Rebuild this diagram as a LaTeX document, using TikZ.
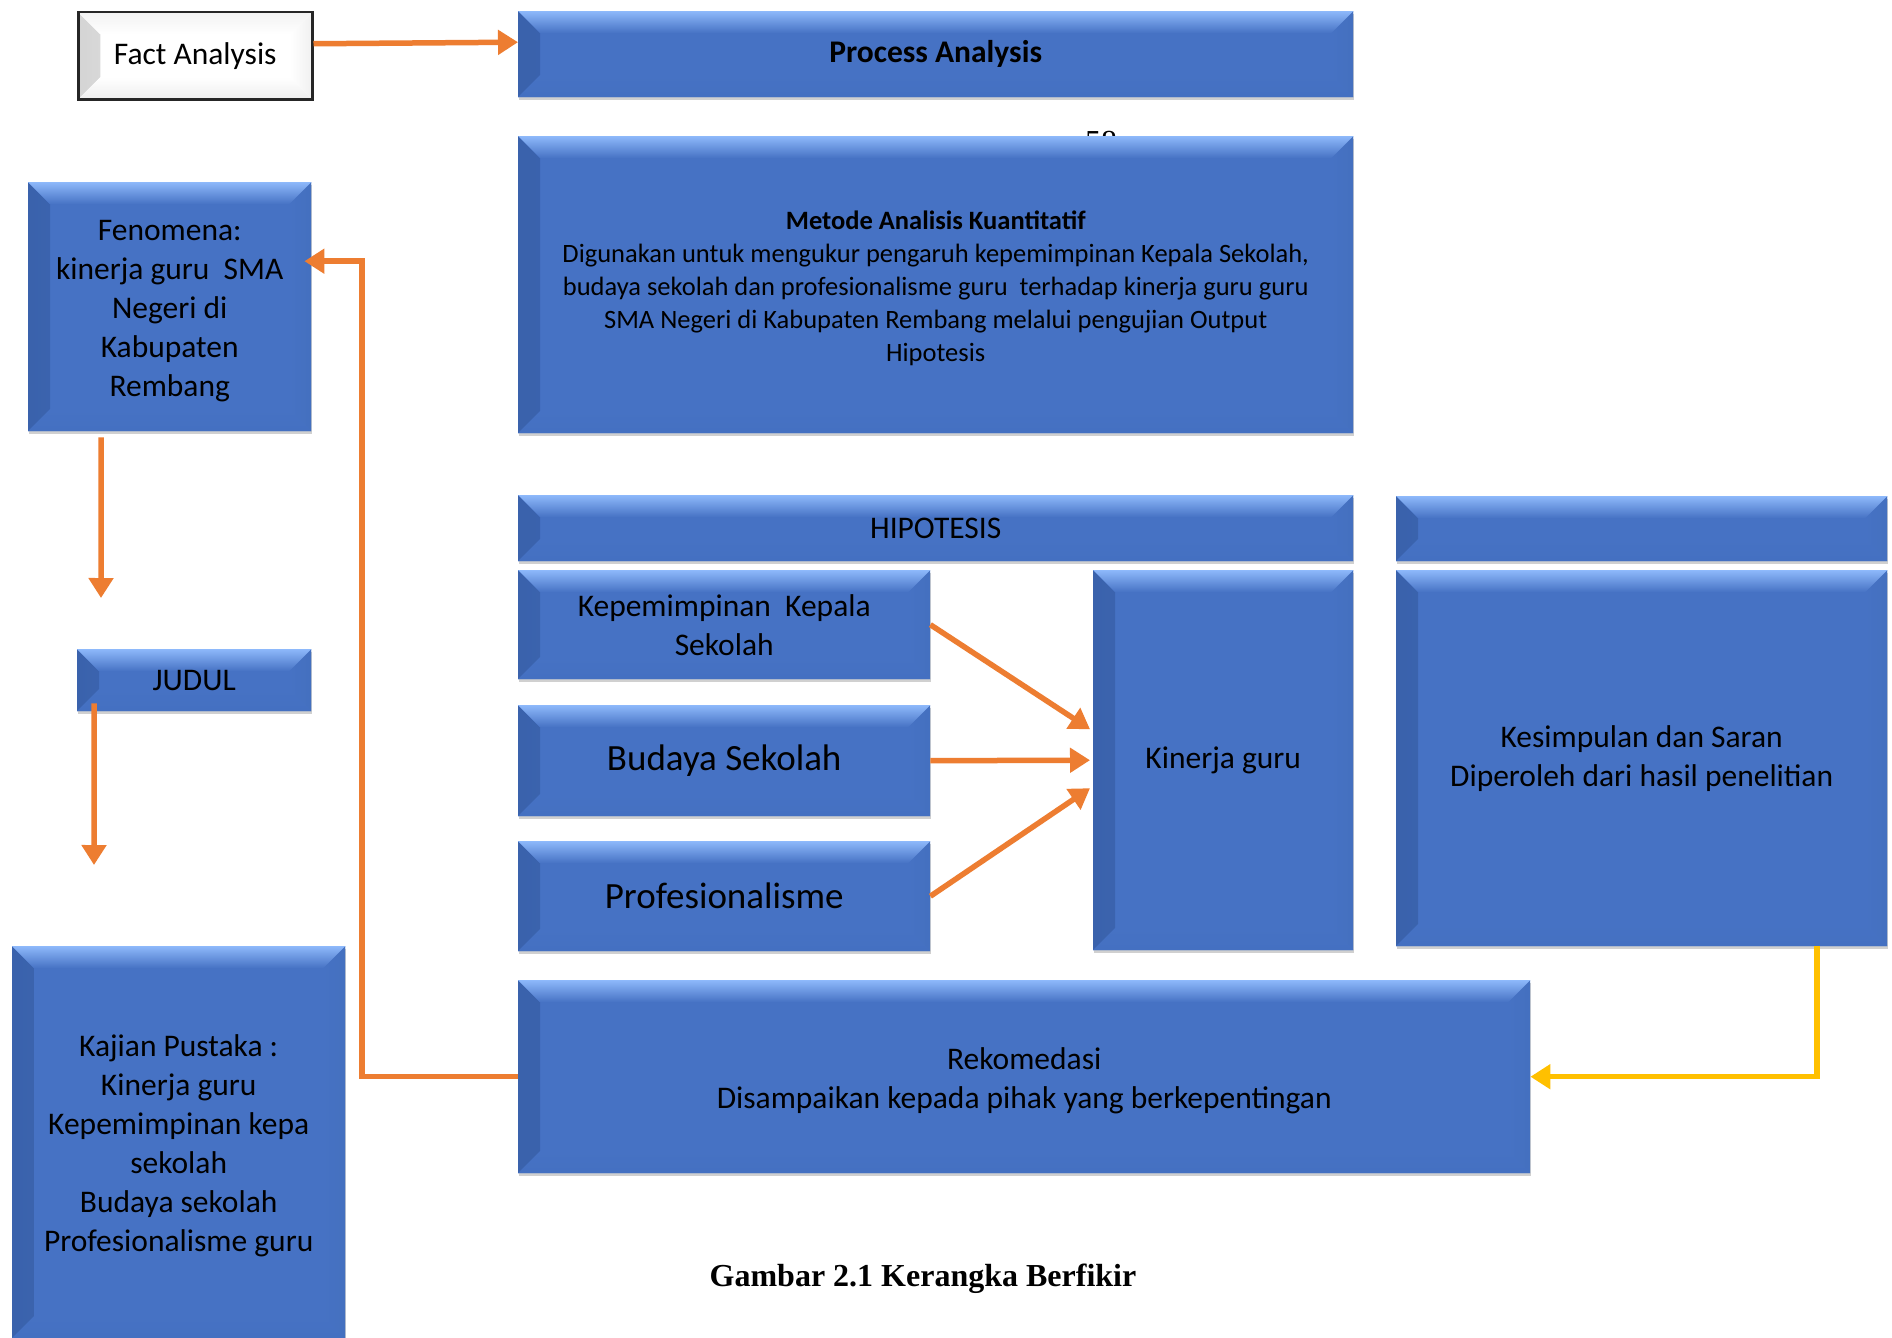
\documentclass[tikz,border=0pt]{standalone}
\usepackage{fontspec}
\setmainfont{Carlito}
\newfontfamily\timesf{Liberation Serif}
\usetikzlibrary{arrows.meta,shadows,calc}
\definecolor{cBase}{HTML}{4672C4}
\definecolor{cTop}{HTML}{8DB8FA}
\definecolor{cLeft}{HTML}{3A62AC}
\definecolor{cRight}{HTML}{4470BF}
\definecolor{cBot}{HTML}{4470C1}
\definecolor{wBase}{HTML}{FFFFFF}
\definecolor{wTop}{HTML}{F2F2F2}
\definecolor{wLeft}{HTML}{D4D4D4}
\definecolor{wRight}{HTML}{F0F0F0}
\definecolor{wBot}{HTML}{EEEEEE}
\definecolor{orangeA}{HTML}{ED7D31}
\definecolor{yellowA}{HTML}{FFC000}
\newcommand{\bv}{22pt}
\newcommand{\mainsz}{\fontsize{31.5}{39}\selectfont}
\newcommand{\dnrule}[1]{\rule{0pt}{#1}}
\tikzset{
  bev/.style n args={5}{fill=#1, path picture={
    \fill[left color=#3, right color=#1]
      (path picture bounding box.north west)
      -- ([xshift=\bv,yshift=-\bv]path picture bounding box.north west)
      -- ([xshift=\bv,yshift=\bv]path picture bounding box.south west)
      -- (path picture bounding box.south west) -- cycle;
    \fill[left color=#1, right color=#4]
      (path picture bounding box.north east)
      -- ([xshift=-\bv,yshift=-\bv]path picture bounding box.north east)
      -- ([xshift=-\bv,yshift=\bv]path picture bounding box.south east)
      -- (path picture bounding box.south east) -- cycle;
    \fill[top color=#1, bottom color=#5]
      (path picture bounding box.south west)
      -- ([xshift=\bv,yshift=\bv]path picture bounding box.south west)
      -- ([xshift=-\bv,yshift=\bv]path picture bounding box.south east)
      -- (path picture bounding box.south east) -- cycle;
    \fill[top color=#2, bottom color=#1]
      (path picture bounding box.north west)
      -- (path picture bounding box.north east)
      -- ([xshift=-\bv,yshift=-\bv]path picture bounding box.north east)
      -- ([xshift=\bv,yshift=-\bv]path picture bounding box.north west) -- cycle;
  }},
  boxbase/.style={rectangle, inner sep=0pt, anchor=north west, align=center,
    text=black, font=\mainsz},
  bluebox/.style={boxbase, bev={cBase}{cTop}{cLeft}{cRight}{cBot},
    drop shadow={shadow xshift=1pt, shadow yshift=-3pt, opacity=0.3, fill=black!60}},
  whitebox/.style={boxbase, bev={wBase}{wTop}{wLeft}{wRight}{wBot},
    draw=black!85, line width=2.5pt},
  conn/.style={draw=orangeA, line width=5.5pt, -{Triangle[length=20pt,width=24pt]}},
  yconn/.style={draw=yellowA, line width=5.5pt, -{Triangle[length=20pt,width=24pt]}},
}
\begin{document}
\begin{tikzpicture}[x=1pt,y=-1pt]
\clip (0,0) rectangle (1892,1338);
\fill[white] (0,0) rectangle (1892,1338);

% page number peeking behind the box
\node[anchor=north, inner sep=0pt, font=\timesf\fontsize{32}{38}\selectfont] (pnum) at (1101,131) {58};

\node[whitebox, minimum width=234pt, minimum height=87pt] (fact) at (77,11) {Fact Analysis};
\node[bluebox, minimum width=835pt, minimum height=86pt] (proc) at (518,11) {\textbf{Process Analysis}};
\node[bluebox, minimum width=835pt, minimum height=297pt, font=\fontsize{26.5}{33}\selectfont] (met) at (518,136)
  {\dnrule{25pt}\textbf{Metode Analisis Kuantitatif}\\
   Digunakan untuk mengukur pengaruh kepemimpinan Kepala Sekolah,\\
   budaya sekolah dan profesionalisme guru\ \ terhadap kinerja guru guru\\
   SMA Negeri di Kabupaten Rembang melalui pengujian Output\\
   Hipotesis};
\node[bluebox, minimum width=283pt, minimum height=249pt] (fen) at (28,182)
  {\dnrule{30pt}Fenomena:\\ kinerja guru\ \ SMA\\ Negeri di\\ Kabupaten\\ Rembang};
\node[bluebox, minimum width=234pt, minimum height=62pt] (jud) at (77,649) {JUDUL};
\node[bluebox, minimum width=333pt, minimum height=392pt] (kaj) at (12,946)
  {\dnrule{29pt}Kajian Pustaka :\\ Kinerja guru\\ Kepemimpinan kepa\\ sekolah\\ Budaya sekolah\\ Profesionalisme guru};
\node[bluebox, minimum width=835pt, minimum height=66pt] (hip) at (518,495) {HIPOTESIS};
\node[bluebox, minimum width=491pt, minimum height=65pt] (blank) at (1396,496) {};
\node[bluebox, minimum width=412pt, minimum height=109pt] (kep) at (518,570) {Kepemimpinan\ \ Kepala\\ Sekolah};
\node[bluebox, minimum width=412pt, minimum height=111pt, font=\fontsize{37}{44}\selectfont] (bud) at (518,705) {Budaya Sekolah};
\node[bluebox, minimum width=412pt, minimum height=110pt, font=\fontsize{37}{44}\selectfont] (prof) at (518,841) {Profesionalisme};
\node[bluebox, minimum width=260pt, minimum height=380pt] (kin) at (1093,570) {Kinerja guru};
\node[bluebox, minimum width=491pt, minimum height=376pt] (kes) at (1396,570)
  {Kesimpulan dan Saran\\ Diperoleh dari hasil penelitian};
\node[bluebox, minimum width=1012pt, minimum height=193pt] (rek) at (518,980)
  {\dnrule{29pt}Rekomedasi\\ Disampaikan kepada pihak yang berkepentingan};

\node[font=\timesf\bfseries\fontsize{32}{38}\selectfont] (cap) at (923,1279) {Gambar 2.1 Kerangka Berfikir};

% connectors
\coordinate (fenend) at (101,598);
\coordinate (judend) at (94,865);
\coordinate (bendx) at (362,0);
\coordinate (fentgt) at ([xshift=-7pt,yshift=45.5pt]fen.east);

\draw[conn] ([yshift=12pt]fact.east) -- ([yshift=12pt]proc.west);
\draw[conn] ([xshift=-68.5pt,yshift=-6pt]fen.south) -- (fenend);
\draw[conn] ([xshift=-100pt,yshift=8pt]jud.south) -- (judend);
\draw[conn] (rek.west) -- (rek.west -| bendx) |- (fentgt);
\draw[conn] (kep.east) -- ([xshift=-3pt,yshift=31pt]kin.west);
\draw[conn] (bud.east) -- ([xshift=-3pt]kin.west);
\draw[conn] (prof.east) -- ([xshift=-3pt,yshift=-28pt]kin.west);
\draw[yconn] ([xshift=175.5pt]kes.south) |- (rek.east);
\end{tikzpicture}
\end{document}
